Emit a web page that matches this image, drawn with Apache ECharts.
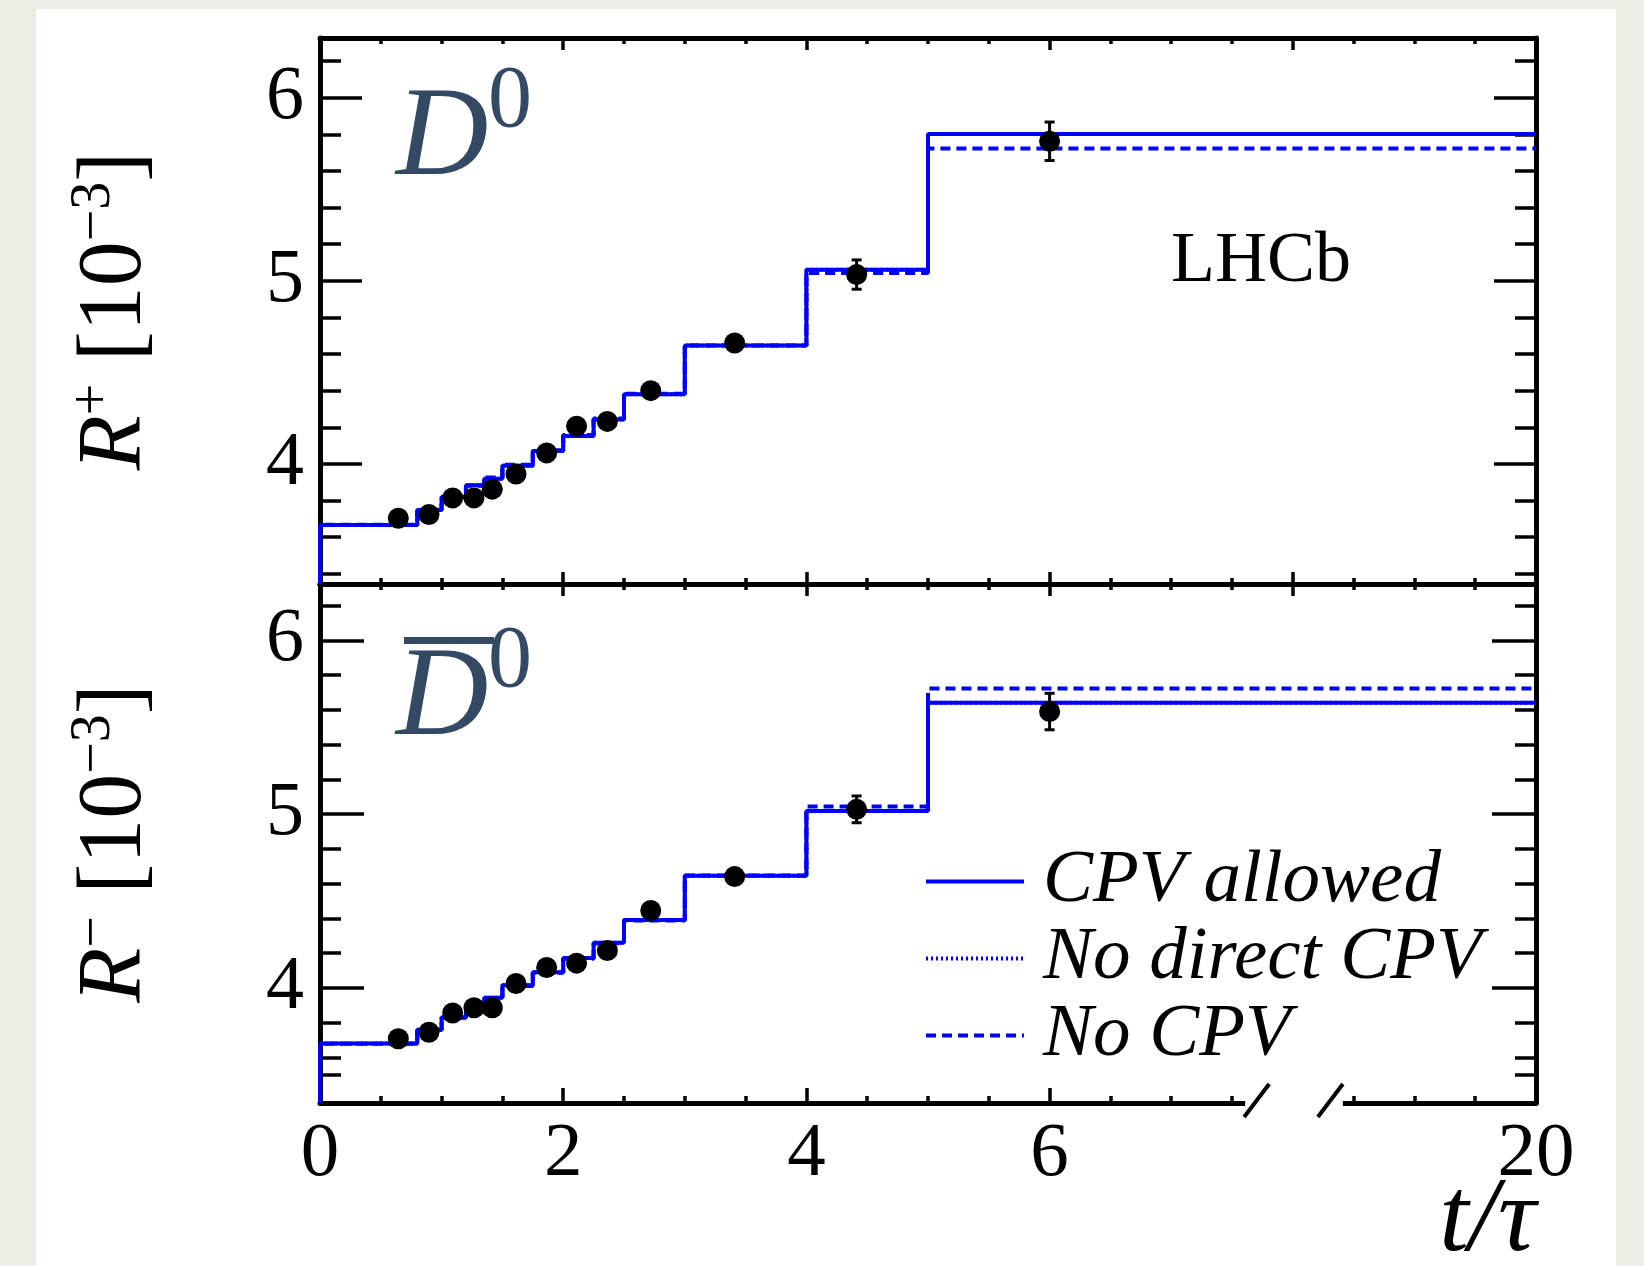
<!DOCTYPE html>
<html>
<head>
<meta charset="utf-8">
<script src="https://cdn.jsdelivr.net/npm/echarts@6/dist/echarts.min.js"></script>
<style>
html,body{margin:0;padding:0;background:#eeebe5;}
#c{width:1644px;height:1266px;}
</style>
</head>
<body>
<div id="c"></div>
<script>
// ---------------- data ----------------
// bin edges in t/tau
const BIN_EDGES = [0, 0.8, 1.0, 1.2, 1.35, 1.5, 1.75, 2.0, 2.25, 2.5, 3.0, 4.0, 5.0, 20];

// R+ (D0) fit curves, per bin [10^-3]
const PLUS_CPV_ALLOWED = [3.666, 3.748, 3.818, 3.883, 3.919, 3.990, 4.070, 4.152, 4.242, 4.380, 4.647, 5.060, 5.802];
const PLUS_NO_DIRECT   = [3.666, 3.748, 3.818, 3.883, 3.919, 3.990, 4.070, 4.152, 4.242, 4.380, 4.647, 5.060, 5.802];
const PLUS_NO_CPV      = [3.668, 3.749, 3.820, 3.880, 3.925, 3.995, 4.075, 4.158, 4.248, 4.383, 4.646, 5.042, 5.723];

// R- (D0bar) fit curves
const MINUS_CPV_ALLOWED = [3.680, 3.758, 3.830, 3.860, 3.943, 4.015, 4.090, 4.172, 4.260, 4.390, 4.645, 5.017, 5.640];
const MINUS_NO_DIRECT   = [3.680, 3.758, 3.830, 3.860, 3.943, 4.015, 4.090, 4.172, 4.260, 4.390, 4.645, 5.017, 5.640];
const MINUS_NO_CPV      = [3.678, 3.757, 3.828, 3.864, 3.938, 4.010, 4.086, 4.167, 4.255, 4.388, 4.646, 5.043, 5.723];

// data points
const POINT_T     = [0.644, 0.896, 1.091, 1.266, 1.417, 1.612, 1.864, 2.11, 2.363, 2.72, 3.41, 4.413, 6.0];
const PLUS_VALS   = [3.703, 3.723, 3.814, 3.814, 3.862, 3.945, 4.060, 4.206, 4.232, 4.400, 4.660, 5.034, 5.762];
const PLUS_ERR    = [0.012, 0.012, 0.012, 0.012, 0.013, 0.013, 0.014, 0.015, 0.016, 0.018, 0.022, 0.080, 0.105];
const MINUS_VALS  = [3.707, 3.744, 3.855, 3.885, 3.885, 4.025, 4.117, 4.142, 4.214, 4.445, 4.640, 5.027, 5.590];
const MINUS_ERR   = [0.012, 0.012, 0.012, 0.012, 0.013, 0.013, 0.014, 0.015, 0.016, 0.018, 0.022, 0.077, 0.105];

// tick labels
const X_TICK_VALUES = [0, 2, 4, 6, 20];
const X_TICK_LABELS = ['0', '2', '4', '6', '20'];
const Y_TICK_VALUES = [4, 5, 6];
const Y_MINOR_TOP = [3.4, 3.6, 3.8, 4.2, 4.4, 4.6, 4.8, 5.2, 5.4, 5.6, 5.8, 6.2];
const Y_MINOR_BOT = [3.5, 3.6, 3.8, 4.2, 4.4, 4.6, 4.8, 5.2, 5.4, 5.6, 5.8, 6.2];

const SERIES_NAMES = ['CPV allowed', 'No direct CPV', 'No CPV'];

// ---------------- broken-axis transform ----------------
// linear up to 7.5, then compressed so that t = 20 sits at the axis end (display 10)
function tx(t) { return t <= 7.5 ? t : 7.5 + (t - 7.5) / 5; }

const Y_RANGE_TOP = [3.344, 6.326];
const Y_RANGE_BOT = [3.337, 6.324];

const X_MAJOR_ALL = [0, 2, 4, 6, 8, 10];
const X_MINOR_ALL = [0.5, 1, 1.5, 2.5, 3, 3.5, 4.5, 5, 5.5, 6.5, 7, 7.5, 8.5, 9, 9.5];
const X_MAJOR_BOTTOM = [0, 2, 4, 6];
const X_MINOR_BOTTOM = [0.5, 1, 1.5, 2.5, 3, 3.5, 4.5, 5, 5.5, 6.5, 7, 7.5, 8.5, 9, 9.5];

const FONT = "'Liberation Serif', 'Times New Roman', serif";
const BLUE = '#0000ff';
const AXIS_W = 5, TICK_W = 3.5, LINE_W = 4;

function stepData(edges, vals, ymin) {
  const d = [[tx(edges[0]), ymin]];
  for (let i = 0; i < vals.length; i++) d.push([tx(edges[i]), vals[i]]);
  d.push([tx(edges[edges.length - 1]), vals[vals.length - 1]]);
  return d;
}

function xAxisDef(grid, position, ticks, len, showLine, labels) {
  return {
    type: 'value', gridIndex: grid, position: position, min: 0, max: 10,
    axisLine: { show: showLine, onZero: false, lineStyle: { color: '#000', width: AXIS_W } },
    axisTick: { show: true, inside: true, length: len, customValues: ticks, lineStyle: { color: '#000', width: TICK_W } },
    axisLabel: labels ? {
      show: true, customValues: X_TICK_VALUES.map(tx), margin: 13,
      fontFamily: FONT, fontSize: 77, color: '#000',
      formatter: function (v) {
        for (let i = 0; i < X_TICK_VALUES.length; i++) if (Math.abs(tx(X_TICK_VALUES[i]) - v) < 1e-6) return X_TICK_LABELS[i];
        return '';
      }
    } : { show: false },
    splitLine: { show: false }
  };
}

function yAxisDef(grid, range, position, ticks, len, showLine, labels, name) {
  const a = {
    type: 'value', gridIndex: grid, position: position, min: range[0], max: range[1],
    axisLine: { show: showLine, onZero: false, lineStyle: { color: '#000', width: AXIS_W } },
    axisTick: { show: true, inside: true, length: len, customValues: ticks, lineStyle: { color: '#000', width: TICK_W } },
    axisLabel: labels ? { show: true, customValues: Y_TICK_VALUES, margin: 16, fontFamily: FONT, fontSize: 76, color: '#000' } : { show: false },
    splitLine: { show: false }
  };
  if (name) {
    a.name = name;
    a.nameLocation = 'middle';
    a.nameRotate = 90;
    a.nameGap = 154;
    a.nameTextStyle = {
      fontFamily: FONT, fontSize: 90, color: '#000', lineHeight: 100,
      rich: {
        r: { fontFamily: FONT, fontSize: 90, fontStyle: 'italic', lineHeight: 100, color: '#000' },
        s: { fontFamily: FONT, fontSize: 56, lineHeight: 46, verticalAlign: 'top', color: '#000' }
      }
    };
  }
  return a;
}

function errorSeries(name, xAxisIndex, yAxisIndex, vals, errs) {
  return {
    type: 'custom', name: name, xAxisIndex: xAxisIndex, yAxisIndex: yAxisIndex, z: 6,
    encode: { x: 0, y: 1 },
    data: POINT_T.map((t, i) => [tx(t), vals[i], errs[i]]),
    renderItem: function (params, api) {
      const x = api.value(0), y = api.value(1), e = api.value(2);
      const p1 = api.coord([x, y + e]);
      const p2 = api.coord([x, y - e]);
      const st = { stroke: '#000', lineWidth: 3 };
      return {
        type: 'group', children: [
          { type: 'line', shape: { x1: p1[0], y1: p1[1], x2: p2[0], y2: p2[1] }, style: st },
          { type: 'line', shape: { x1: p1[0] - 5, y1: p1[1], x2: p1[0] + 5, y2: p1[1] }, style: st },
          { type: 'line', shape: { x1: p2[0] - 5, y1: p2[1], x2: p2[0] + 5, y2: p2[1] }, style: st }
        ]
      };
    }
  };
}

function modelSeries(xi, yi, ymin, arrs) {
  const styles = [
    { color: BLUE, width: LINE_W, type: 'solid' },
    { color: BLUE, width: LINE_W, type: [2, 3] },
    { color: BLUE, width: LINE_W, type: [10, 6] }
  ];
  return arrs.map((vals, k) => ({
    type: 'line', name: SERIES_NAMES[k], xAxisIndex: xi, yAxisIndex: yi,
    step: 'end', showSymbol: false, symbol: 'none',
    lineStyle: styles[k], itemStyle: { color: BLUE },
    data: stepData(BIN_EDGES, vals, ymin), z: 3 + k * 0.1
  }));
}

const chart = echarts.init(document.getElementById('c'), null, { renderer: 'canvas' });

const option = {
  animation: false,
  backgroundColor: 'transparent',
  grid: [
    { left: 320, top: 38, width: 1216, height: 546 },
    { left: 320, top: 584, width: 1216, height: 519 }
  ],
  xAxis: [
    xAxisDef(0, 'bottom', X_MAJOR_ALL, 12, true, false),
    xAxisDef(0, 'bottom', X_MINOR_ALL, 6, false, false),
    xAxisDef(0, 'top', X_MAJOR_ALL, 12, true, false),
    xAxisDef(0, 'top', X_MINOR_ALL, 6, false, false),
    xAxisDef(1, 'top', X_MAJOR_ALL, 12, true, false),
    xAxisDef(1, 'top', X_MINOR_ALL, 6, false, false),
    xAxisDef(1, 'bottom', X_MAJOR_BOTTOM, 15, true, true),
    xAxisDef(1, 'bottom', X_MINOR_BOTTOM, 7, false, false)
  ],
  yAxis: [
    yAxisDef(0, Y_RANGE_TOP, 'left', Y_TICK_VALUES, 42, true, true, '{r|R}{s|+} [10{s|\u22123}]'),
    yAxisDef(0, Y_RANGE_TOP, 'left', Y_MINOR_TOP, 21, false, false),
    yAxisDef(0, Y_RANGE_TOP, 'right', Y_TICK_VALUES, 42, true, false),
    yAxisDef(0, Y_RANGE_TOP, 'right', Y_MINOR_TOP, 21, false, false),
    yAxisDef(1, Y_RANGE_BOT, 'left', Y_TICK_VALUES, 44, true, true, '{r|R}{s|\u2212} [10{s|\u22123}]'),
    yAxisDef(1, Y_RANGE_BOT, 'left', Y_MINOR_BOT, 21, false, false),
    yAxisDef(1, Y_RANGE_BOT, 'right', Y_TICK_VALUES, 44, true, false),
    yAxisDef(1, Y_RANGE_BOT, 'right', Y_MINOR_BOT, 21, false, false)
  ],
  legend: {
    data: SERIES_NAMES, orient: 'vertical', left: 919, top: 838,
    itemWidth: 98, itemHeight: 20, itemGap: 0,
    itemStyle: { opacity: 0 },
    lineStyle: { width: 4 },
    textStyle: { fontFamily: FONT, fontStyle: 'italic', fontSize: 75, color: '#000', lineHeight: 77, padding: [0, 0, 0, 14] },
    selectedMode: false
  },
  series: [].concat(
    modelSeries(0, 0, Y_RANGE_TOP[0], [PLUS_CPV_ALLOWED, PLUS_NO_DIRECT, PLUS_NO_CPV]),
    modelSeries(6, 4, Y_RANGE_BOT[0], [MINUS_CPV_ALLOWED, MINUS_NO_DIRECT, MINUS_NO_CPV]),
    [
      errorSeries('errPlus', 0, 0, PLUS_VALS, PLUS_ERR),
      errorSeries('errMinus', 6, 4, MINUS_VALS, MINUS_ERR),
      { type: 'scatter', name: 'dataPlus', xAxisIndex: 0, yAxisIndex: 0, symbol: 'circle', symbolSize: 21,
        itemStyle: { color: '#000', opacity: 1 }, z: 7, data: POINT_T.map((t, i) => [tx(t), PLUS_VALS[i]]) },
      { type: 'scatter', name: 'dataMinus', xAxisIndex: 6, yAxisIndex: 4, symbol: 'circle', symbolSize: 21,
        itemStyle: { color: '#000', opacity: 1 }, z: 7, data: POINT_T.map((t, i) => [tx(t), MINUS_VALS[i]]) }
    ]
  )
};
chart.setOption(option);

// ---------------- decorations: background panel, labels, axis break ----------------
const BREAK_START = 7.6, BREAK_END = 8.42;
const bx0 = chart.convertToPixel({ xAxisIndex: 6 }, BREAK_START);
const bx1 = chart.convertToPixel({ xAxisIndex: 6 }, BREAK_END);
const by = chart.convertToPixel({ yAxisIndex: 4 }, Y_RANGE_BOT[0]);
const titleColor = '#344964';

chart.setOption({
  graphic: [
    { type: 'rect', z: -10, silent: true, shape: { x: 36, y: 9, width: 1580, height: 1257 }, style: { fill: '#ffffff' } },
    // axis break: blank the axis line and draw two slashes
    { type: 'rect', z: 50, silent: true, shape: { x: bx0 + 1, y: by - 5, width: bx1 - bx0 - 2, height: 10 }, style: { fill: '#ffffff' } },
    { type: 'line', z: 51, silent: true, shape: { x1: bx0, y1: by + 14, x2: bx0 + 25, y2: by - 19 }, style: { stroke: '#000', lineWidth: 4 } },
    { type: 'line', z: 51, silent: true, shape: { x1: bx1 - 26, y1: by + 14, x2: bx1 - 1, y2: by - 19 }, style: { stroke: '#000', lineWidth: 4 } },
    // panel labels
    { type: 'text', z: 20, silent: true, style: { text: 'D', x: 396, y: 140, fontFamily: FONT, fontStyle: 'italic', fontSize: 128, fill: titleColor, verticalAlign: 'middle', align: 'left' } },
    { type: 'text', z: 20, silent: true, style: { text: '0', x: 488, y: 103, fontFamily: FONT, fontSize: 88, fill: titleColor, verticalAlign: 'middle', align: 'left' } },
    { type: 'text', z: 20, silent: true, style: { text: 'D', x: 396, y: 700, fontFamily: FONT, fontStyle: 'italic', fontSize: 128, fill: titleColor, verticalAlign: 'middle', align: 'left' } },
    { type: 'rect', z: 20, silent: true, shape: { x: 404, y: 637, width: 90, height: 7 }, style: { fill: titleColor } },
    { type: 'text', z: 20, silent: true, style: { text: '0', x: 488, y: 663, fontFamily: FONT, fontSize: 88, fill: titleColor, verticalAlign: 'middle', align: 'left' } },
    { type: 'text', z: 20, silent: true, style: { text: 'LHCb', x: 1261, y: 262, fontFamily: FONT, fontSize: 72, fill: '#000', verticalAlign: 'middle', align: 'center' } },
    { type: 'text', z: 20, silent: true, style: { text: 't/\u03c4', x: 1536, y: 1222, fontFamily: FONT, fontStyle: 'italic', fontSize: 106, fill: '#000', verticalAlign: 'middle', align: 'right' } }
  ]
});
</script>
</body>
</html>
